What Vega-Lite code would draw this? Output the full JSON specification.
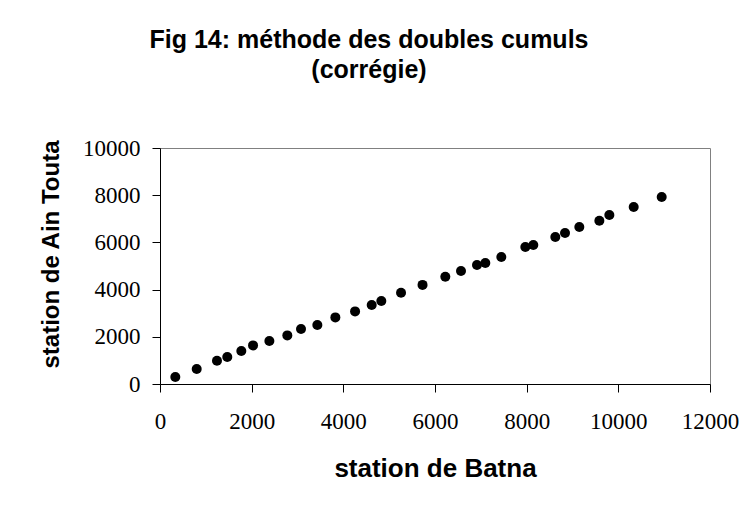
{
  "$schema": "https://vega.github.io/schema/vega-lite/v6.json",
  "width": 550,
  "height": 236,
  "autosize": {"type": "none"},
  "padding": {"left": 160, "top": 148, "right": 40, "bottom": 125},
  "background": "white",
  "title": {
    "text": ["Fig 14: méthode des doubles cumuls", "(corrégie)"],
    "font": "Liberation Sans",
    "fontWeight": "bold",
    "fontSize": 25,
    "lineHeight": 30,
    "color": "black",
    "anchor": "middle",
    "dx": -66,
    "offset": 54
  },
  "data": {
    "values": [
      {"batna": 334, "ain_touta": 297},
      {"batna": 801, "ain_touta": 636},
      {"batna": 1243, "ain_touta": 987},
      {"batna": 1468, "ain_touta": 1144},
      {"batna": 1774, "ain_touta": 1398},
      {"batna": 2030, "ain_touta": 1636},
      {"batna": 2386, "ain_touta": 1822},
      {"batna": 2778, "ain_touta": 2059},
      {"batna": 3077, "ain_touta": 2330},
      {"batna": 3433, "ain_touta": 2500},
      {"batna": 3826, "ain_touta": 2822},
      {"batna": 4256, "ain_touta": 3076},
      {"batna": 4619, "ain_touta": 3347},
      {"batna": 4829, "ain_touta": 3517},
      {"batna": 5259, "ain_touta": 3869},
      {"batna": 5728, "ain_touta": 4200},
      {"batna": 6225, "ain_touta": 4547},
      {"batna": 6567, "ain_touta": 4788},
      {"batna": 6916, "ain_touta": 5042},
      {"batna": 7098, "ain_touta": 5127},
      {"batna": 7447, "ain_touta": 5381},
      {"batna": 7971, "ain_touta": 5805},
      {"batna": 8145, "ain_touta": 5890},
      {"batna": 8625, "ain_touta": 6229},
      {"batna": 8837, "ain_touta": 6398},
      {"batna": 9149, "ain_touta": 6653},
      {"batna": 9586, "ain_touta": 6919},
      {"batna": 9804, "ain_touta": 7161},
      {"batna": 10335, "ain_touta": 7500},
      {"batna": 10946, "ain_touta": 7924}
    ]
  },
  "mark": {"type": "circle", "size": 100, "color": "black", "opacity": 1},
  "encoding": {
    "x": {
      "field": "batna",
      "type": "quantitative",
      "scale": {"domain": [0, 12000], "nice": false, "zero": true},
      "axis": {
        "values": [0, 2000, 4000, 6000, 8000, 10000, 12000],
        "format": "d",
        "title": "station de Batna",
        "labelPadding": 18,
        "titleX": 275,
        "titleY": 92,
        "titleBaseline": "alphabetic",
        "titleFontSize": 26
      }
    },
    "y": {
      "field": "ain_touta",
      "type": "quantitative",
      "scale": {"domain": [0, 10000], "nice": false, "zero": true},
      "axis": {
        "values": [0, 2000, 4000, 6000, 8000, 10000],
        "format": "d",
        "title": "station de Ain Touta",
        "labelPadding": 12,
        "titleAngle": -90,
        "titleX": -102,
        "titleY": 106,
        "titleBaseline": "alphabetic",
        "titleAlign": "center",
        "titleFontSize": 24
      }
    }
  },
  "config": {
    "view": {"stroke": "#808080", "strokeWidth": 1},
    "axis": {
      "grid": false,
      "domainColor": "black",
      "domainWidth": 1,
      "tickColor": "black",
      "tickWidth": 1,
      "tickSize": 8,
      "labelFont": "Liberation Serif",
      "labelFontSize": 23,
      "labelColor": "black",
      "labelOverlap": false,
      "labelFlush": false,
      "titleFont": "Liberation Sans",
      "titleFontWeight": "bold",
      "titleColor": "black"
    }
  }
}
